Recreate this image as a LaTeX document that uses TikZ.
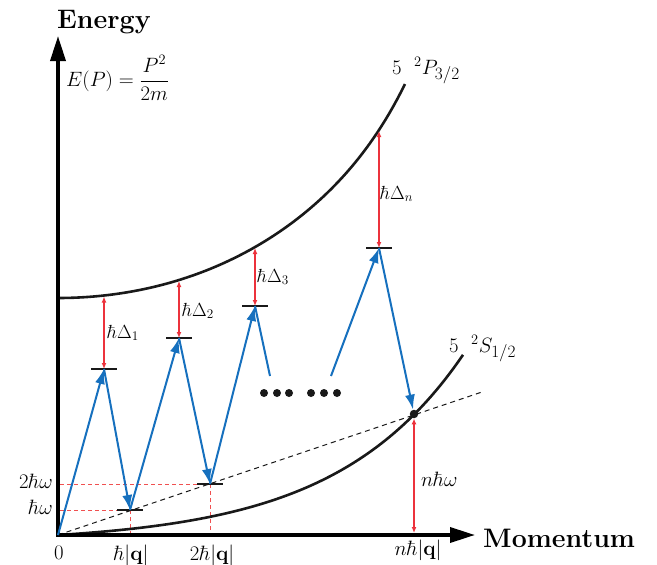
\documentclass[tikz,border=0pt]{standalone}
\usetikzlibrary{arrows.meta}
\definecolor{myblue}{RGB}{22,112,190}
\definecolor{myred}{RGB}{236,50,60}
\definecolor{guidered}{RGB}{240,80,80}
\begin{document}
\begin{tikzpicture}[x=1pt,y=-1pt,
  axis/.style={line width=3.5pt, line join=miter, {Triangle[length=25pt,width=15pt]}-{Triangle[length=25pt,width=15pt]}},
  curve/.style={line width=2.6pt, black!90},
  trans/.style={line width=2pt, myblue, -{Latex[length=15pt,width=10pt]}},
  transline/.style={line width=2pt, myblue},
  gap/.style={line width=1.2pt, myred, {Latex[length=6pt,width=5pt]}-{Latex[length=6pt,width=5pt]}},
  levelmark/.style={line width=1.6pt, black!90},
  guide/.style={line width=1pt, guidered, dash pattern=on 4pt off 3pt},
  slope/.style={line width=1pt, black!90, dash pattern=on 5pt off 4pt},
  lbl/.style={font=\fontsize{20.74}{25}\selectfont, inner sep=0pt},
  dlbl/.style={font=\fontsize{17.28}{21}\selectfont, inner sep=0pt, scale=1.1},
  bigl/.style={inner sep=0pt, scale=1.075},
  dotnode/.style={circle, fill=black!90, inner sep=0pt, minimum size=#1},
]
\useasboundingbox (0,0) rectangle (657,565);

% key points
\coordinate (O) at (58,535);
\coordinate (Ytip) at (58,36);
\coordinate (Xtip) at (475,535);
\coordinate (L1) at (104,369);
\coordinate (L2) at (179,338);
\coordinate (L3) at (255,306);
\coordinate (Ln) at (379,248);
\coordinate (Q1) at (130,510);
\coordinate (Q2) at (210,484);
\coordinate (U1) at (104,296.5);
\coordinate (U2) at (179,281);
\coordinate (U3) at (255,248);
\coordinate (Un) at (379,131);
\coordinate (E1) at (270,376);
\coordinate (E2) at (331,376);
\coordinate (Send) at (482,392);
\coordinate (Yq1) at (60,510);
\coordinate (Yq2) at (60,484);
\coordinate (Xq1) at (130,533);
\coordinate (Xq2) at (210,533);
\coordinate (Xn) at (414,533);

% guide lines
\draw[guide] (Yq1) -- ([xshift=-13pt]Q1);
\draw[guide] (Yq2) -- ([xshift=-12pt]Q2);
\draw[guide] (Q1) -- (Xq1);
\draw[guide] (Q2) -- (Xq2);

% dashed photon line
\draw[slope] (O) -- (Send);

% dispersion curves
\draw[curve] plot[domain=0:347, samples=90] ({58+\x}, {298 - 141.8*(\x/347)^2 - 49.6*(\x/347)^4 - 22.6*(\x/347)^10});
\draw[curve] plot[domain=0:405, samples=90] ({58+\x}, {535 - 8*(exp(0.0078*\x)-1)});

% axes
\draw[axis] (Ytip) -- (O) -- (Xtip);

% level marks
\foreach \p in {L1,L2,L3,Ln,Q1,Q2} \draw[levelmark] ([xshift=-13pt]\p) -- ([xshift=13pt]\p);

% final dot
\node[dotnode=8.5pt] (dot) at (414,414) {};

% detuning arrows
\draw[gap] (U1) -- (L1);
\draw[gap] (U2) -- (L2);
\draw[gap] (U3) -- (L3);
\draw[gap] (Un) -- (Ln);
\draw[gap] (dot) -- (Xn);

% transitions
\draw[trans] (O) -- (L1);
\draw[trans] (L1) -- (Q1);
\draw[trans] (Q1) -- (L2);
\draw[trans] (L2) -- (Q2);
\draw[trans] (Q2) -- (L3);
\draw[transline] (L3) -- (E1);
\draw[trans] (E2) -- (Ln);
\draw[trans] (Ln) -- (dot);

% ellipsis dots
\foreach \x/\n in {264/a,277/b,289/c,311/d,324/e,337/f}
  \node[dotnode=8pt] (el\n) at (\x,393) {};

% labels
\node[bigl, anchor=base west] (momentum) at (483,547) {\fontsize{24.88}{30}\selectfont\bfseries Momentum};
\node[bigl, anchor=base west] (energy) at (57,28) {\fontsize{24.88}{30}\selectfont\bfseries Energy};
\node[lbl, anchor=west] (disp) at (66,78) {$\displaystyle E(P)=\frac{P^2}{2m}$};
\node[lbl, anchor=base west] (pstate) at (392,74) {$5\ \ {}^2P_{\hbox{\fontsize{17.28}{20}\selectfont$3/2$}}$};
\node[lbl, anchor=base west] (sstate) at (449,352) {$5\ \ {}^2S_{\hbox{\fontsize{17.28}{20}\selectfont$1/2$}}$};
\node[dlbl, anchor=base west] (d1) at (107,338) {$\hbar\Delta_1$};
\node[dlbl, anchor=base west] (d2) at (182,316) {$\hbar\Delta_2$};
\node[dlbl, anchor=base west] (d3) at (257,282) {$\hbar\Delta_3$};
\node[dlbl, anchor=base west] (dn) at (380,199) {$\hbar\Delta_n$};
\node[lbl, anchor=base west] (nhw) at (421,486) {$n\hbar\omega$};
\node[lbl, anchor=base east] (hw2) at (53,488) {$2\hbar\omega$};
\node[lbl, anchor=base east] (hw1) at (53,514) {$\hbar\omega$};
\node[lbl, anchor=base] (zero) at (59,559) {$0$};
\node[lbl, anchor=base] (q1) at (131,560) {$\hbar|\mathbf{q}|$};
\node[lbl, anchor=base] (q2) at (212,560) {$2\hbar|\mathbf{q}|$};
\node[lbl, anchor=base] (qn) at (418,555) {$n\hbar|\mathbf{q}|$};
\end{tikzpicture}
\end{document}
